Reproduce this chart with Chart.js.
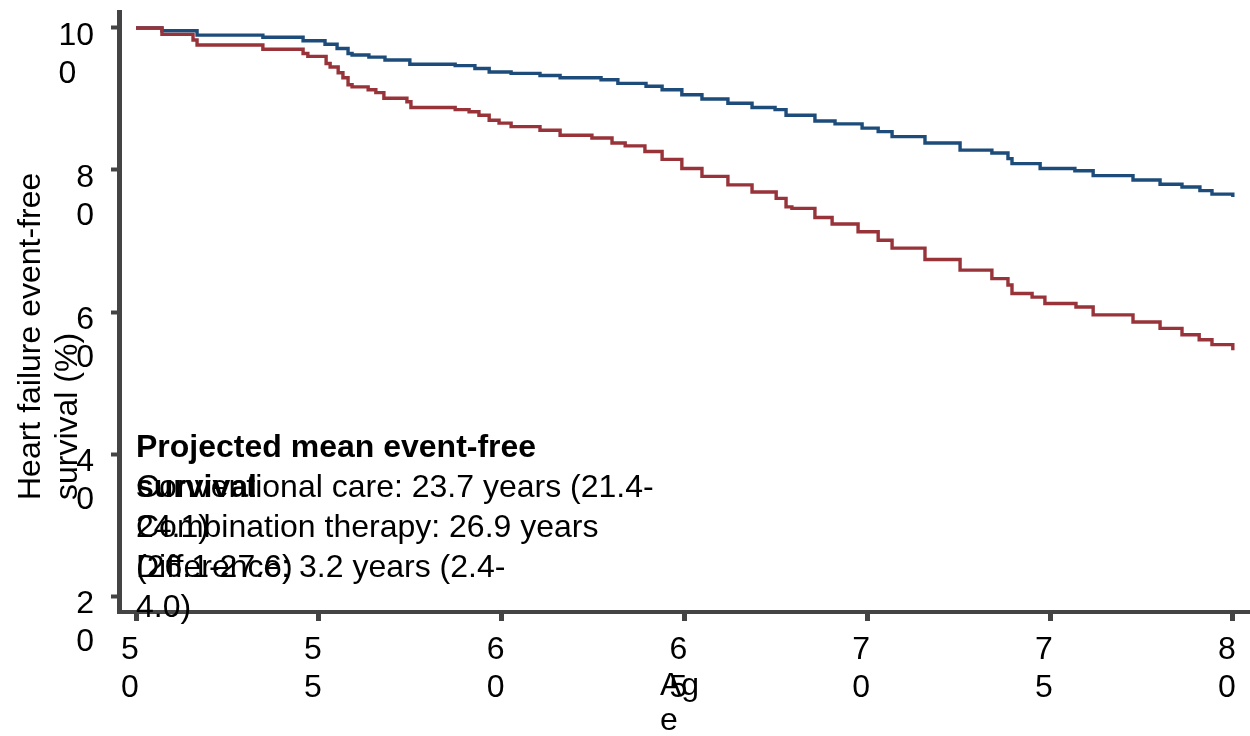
<!DOCTYPE html>
<html>
<head>
<meta charset="utf-8">
<title>Heart failure event-free survival</title>
<script src="https://cdn.jsdelivr.net/npm/chart.js@4.4.1/dist/chart.umd.min.js"></script>
<style>
  html, body { margin: 0; padding: 0; background: #fff; }
  canvas { display: block; }
</style>
</head>
<body>
<canvas id="kmChart" width="1250" height="736"></canvas>
<script>
// Step curves: age (years) where the curve drops, survival (%) after the drop
const conventionalAges = [50, 50.71, 51.56, 51.67, 53.47, 54.57, 54.70, 55.20, 55.31, 55.53,
  55.66, 55.80, 55.91, 56.35, 56.56, 56.78, 57.41, 57.52, 58.73, 59.11,
  59.38, 59.66, 59.93, 60.26, 61.05, 61.60, 62.47, 63.02, 63.38, 63.92,
  64.39, 64.93, 65.48, 66.19, 66.85, 67.51, 67.78, 67.94, 68.57, 69.04,
  69.75, 70.30, 70.68, 71.58, 72.54, 73.41, 73.85, 73.96, 74.51, 74.86,
  75.71, 76.18, 77.27, 78.01, 78.61, 79.08, 79.43, 80.0];
const conventionalSurv = [100, 99.1, 98.3, 97.6, 97.0, 96.4, 96.0, 95.0, 94.5, 93.7,
  93.0, 92.0, 91.7, 91.3, 90.9, 90.1, 89.6, 88.8, 88.5, 88.2,
  87.7, 87.0, 86.6, 86.1, 85.6, 84.9, 84.5, 83.8, 83.4, 82.6,
  81.5, 80.2, 79.1, 77.9, 76.9, 76.0, 74.8, 74.6, 73.3, 72.4,
  71.3, 70.1, 69.0, 67.4, 65.9, 64.7, 63.8, 62.6, 62.1, 61.2,
  60.7, 59.6, 58.6, 57.7, 56.8, 56.1, 55.4, 54.6];

const combinationAges = [50, 50.71, 51.67, 53.47, 54.57, 55.17, 55.50, 55.80, 55.91, 56.37,
  56.81, 57.49, 58.73, 59.27, 59.66, 60.26, 61.05, 61.60, 62.72, 63.18,
  63.95, 64.39, 64.93, 65.48, 66.19, 66.85, 67.48, 67.78, 68.57, 69.12,
  69.86, 70.30, 70.68, 71.58, 72.54, 73.41, 73.85, 73.96, 74.73, 75.68,
  76.18, 77.27, 78.01, 78.61, 79.10, 79.43, 80.0];
const combinationSurv = [100, 99.6, 99.0, 98.7, 98.2, 97.7, 97.1, 96.4, 96.2, 95.9,
  95.5, 94.9, 94.7, 94.3, 93.8, 93.6, 93.3, 93.0, 92.7, 92.2,
  91.8, 91.3, 90.6, 90.0, 89.4, 88.8, 88.5, 87.7, 86.9, 86.5,
  85.9, 85.4, 84.7, 83.8, 82.8, 82.4, 81.6, 80.9, 80.2, 79.9,
  79.2, 78.6, 78.0, 77.6, 77.1, 76.6, 76.2];

// Axes
const xTicks = [50, 55, 60, 65, 70, 75, 80];
const yTicks = [20, 40, 60, 80, 100];
const xTitle = ["Ag", "e"];
const yTitle = ["Heart failure event-free", "survival (%)"];

// Summary text
const summaryTitle = ["Projected mean event-free", "survival"];
const summaryLines = [
  ["Conventional care: 23.7 years (21.4-", "24.1)"],
  ["Combination therapy: 26.9 years", "(26.1-27.6)"],
  ["Difference: 3.2 years (2.4-", "4.0)"]
];

const fontFamily = '"Liberation Sans", Arial, Helvetica, sans-serif';
const axisColor = "#444444";
const redColor = "#983339";
const blueColor = "#1d4c7a";

function toPoints(ages, surv) {
  return ages.map((a, i) => ({ x: a, y: surv[i] }));
}

// Tick labels break before the last digit; the short line is padded
// with spaces so both lines start at the same place
function wrapTick(value) {
  const s = String(value);
  const first = s.slice(0, -1);
  const last = s.slice(-1);
  return [first, last + " ".repeat(2 * (first.length - last.length))];
}

// Titles and the summary box, drawn as left-aligned blocks
const textBlocks = {
  id: "textBlocks",
  afterDraw(chart) {
    const { ctx, chartArea, scales } = chart;
    ctx.save();
    ctx.fillStyle = "#000";
    ctx.textAlign = "left";
    ctx.textBaseline = "middle";

    const left = scales.x.getPixelForValue(50);
    const rowTop = chartArea.top + 436;
    const rowStep = 40;
    ctx.font = `bold 32px ${fontFamily}`;
    summaryTitle.forEach((line, j) => ctx.fillText(line, left, rowTop + j * rowStep));
    ctx.font = `32px ${fontFamily}`;
    summaryLines.forEach((lines, i) => {
      lines.forEach((line, j) => ctx.fillText(line, left, rowTop + (i + 1 + j) * rowStep));
    });

    xTitle.forEach((line, j) => ctx.fillText(line, 660, 686 + j * 35));

    ctx.translate(31, 500);
    ctx.rotate(-Math.PI / 2);
    yTitle.forEach((line, j) => ctx.fillText(line, 0, j * 37));
    ctx.restore();
  }
};

// Fixed axis sizes, no extra room for overhanging tick labels
function fixX(s) {
  s.height = 124;
  s.paddingLeft = 0;
  s.paddingRight = 0;
}
function fixY(s) {
  s.width = 119;
  s.paddingTop = 0;
  s.paddingBottom = 0;
}

new Chart(document.getElementById("kmChart"), {
  type: "line",
  data: {
    datasets: [
      {
        label: "Conventional care",
        data: toPoints(conventionalAges, conventionalSurv),
        borderColor: redColor,
        borderWidth: 3.4,
        stepped: "before",
        pointRadius: 0,
        fill: false
      },
      {
        label: "Combination therapy",
        data: toPoints(combinationAges, combinationSurv),
        borderColor: blueColor,
        borderWidth: 3.4,
        stepped: "before",
        pointRadius: 0,
        fill: false
      }
    ]
  },
  options: {
    responsive: false,
    animation: false,
    devicePixelRatio: 1,
    layout: { padding: { top: 12, right: 0, bottom: 0, left: 0 }, autoPadding: false },
    plugins: {
      legend: { display: false },
      tooltip: { enabled: false }
    },
    scales: {
      x: {
        type: "linear",
        min: 49.535,
        max: 80.47,
        afterBuildTicks: s => { s.ticks = xTicks.map(v => ({ value: v })); },
        afterFit: fixX,
        border: { color: axisColor, width: 4 },
        grid: { drawOnChartArea: false, tickLength: 9, tickWidth: 5, tickColor: axisColor },
        ticks: {
          color: "#000",
          font: { family: fontFamily, size: 32, lineHeight: 1.2 },
          padding: 10,
          labelOffset: -6,
          maxRotation: 0,
          autoSkip: false,
          callback: v => wrapTick(v)
        }
      },
      y: {
        type: "linear",
        min: 17.75,
        max: 102.25,
        afterBuildTicks: s => { s.ticks = yTicks.map(v => ({ value: v })); },
        afterFit: fixY,
        border: { color: axisColor, width: 5 },
        grid: { drawOnChartArea: false, tickLength: 8, tickWidth: 4, tickColor: axisColor },
        ticks: {
          color: "#000",
          font: { family: fontFamily, size: 32, lineHeight: 1.2 },
          padding: 17,
          labelOffset: 27,
          autoSkip: false,
          callback: v => wrapTick(v)
        }
      }
    }
  },
  plugins: [textBlocks]
});
</script>
</body>
</html>
